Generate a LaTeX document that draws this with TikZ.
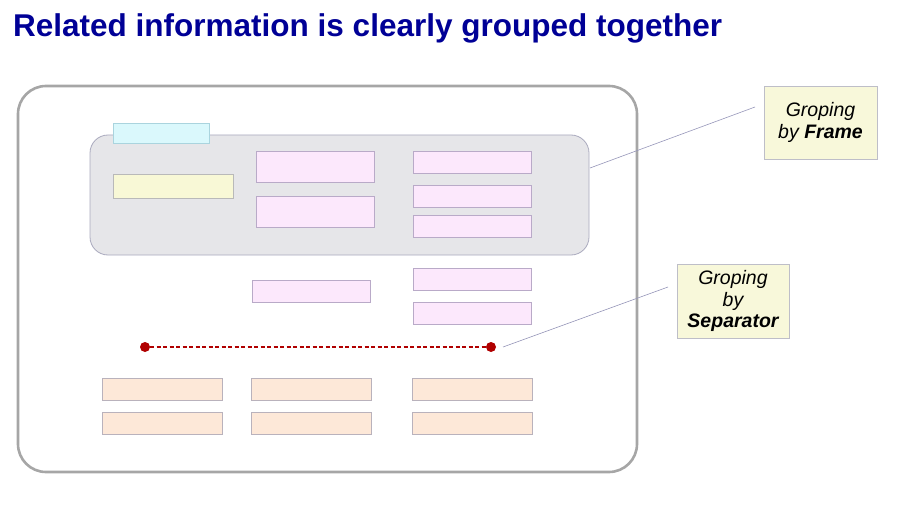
\documentclass[tikz,border=0pt]{standalone}
\usepackage{fontspec}
\setmainfont{Liberation Sans}
\usepackage{xcolor}
\usepackage{tikz}
\usetikzlibrary{shapes,arrows,positioning}
\definecolor{titlecolor}{RGB}{0, 0, 150}
\definecolor{framegray}{RGB}{166, 166, 166}
\definecolor{groupfill}{RGB}{230, 230, 233}
\definecolor{groupline}{RGB}{170, 170, 190}
\definecolor{pinkfill}{RGB}{252, 232, 252}
\definecolor{pinkline}{RGB}{185, 170, 200}
\definecolor{cyanfill}{RGB}{218, 248, 252}
\definecolor{cyanline}{RGB}{170, 212, 222}
\definecolor{yellowfill}{RGB}{248, 248, 214}
\definecolor{yellowline}{RGB}{185, 185, 185}
\definecolor{orangefill}{RGB}{253, 232, 216}
\definecolor{orangeline}{RGB}{185, 178, 188}
\definecolor{notefill}{RGB}{248, 248, 218}
\definecolor{noteline}{RGB}{190, 190, 200}
\definecolor{sepred}{RGB}{176, 0, 0}
\definecolor{leaderline}{RGB}{150, 150, 185}

\begin{document}
\begin{tikzpicture}[x=1pt, y=-1pt]
    % Define styles
    \tikzstyle{outerframe} = [rectangle, draw=framegray, line width=2.6pt, fill=white, rounded corners=28pt, inner sep=0pt]
    \tikzstyle{grpframe} = [rectangle, draw=groupline, line width=0.8pt, fill=groupfill, rounded corners=18pt, inner sep=0pt]
    \tikzstyle{field} = [rectangle, draw=pinkline, line width=0.8pt, fill=pinkfill, minimum width=118pt, minimum height=22pt, inner sep=0pt]
    \tikzstyle{tabfield} = [field, draw=cyanline, fill=cyanfill, minimum width=96pt, minimum height=20pt]
    \tikzstyle{labelfield} = [field, draw=yellowline, fill=yellowfill, minimum width=120pt, minimum height=24pt]
    \tikzstyle{lowfield} = [field, draw=orangeline, fill=orangefill, minimum width=120pt]
    \tikzstyle{note} = [rectangle, draw=noteline, line width=0.8pt, fill=notefill, align=center, inner sep=0pt, minimum width=113pt, minimum height=73pt, font=\fontsize{19.5}{21.5}\selectfont\itshape]
    \tikzstyle{sepdot} = [circle, fill=sepred, inner sep=0pt, minimum size=10pt]
    \tikzstyle{leader} = [line width=0.6pt, leaderline]

    \useasboundingbox (0,0) rectangle (897,508);

    % Title
    \node [anchor=base west, inner sep=0pt, text=titlecolor, font=\fontsize{31.5}{36}\selectfont\bfseries] (title) at (13,37) {Related information is clearly grouped together};

    % Window and grouping frame
    \node [outerframe, minimum width=619pt, minimum height=386pt] (window) at (327.5,279) {};
    \node [grpframe, minimum width=499pt, minimum height=120pt] (group) at (339.5,195) {};
    \node [tabfield] (grouptab) at (161,133) {};

    % Fields inside the frame
    \node [labelfield] (grouplabel) at (173,186) {};
    \node [field, minimum height=31pt] (tallfieldA) at (315.5,166.5) {};
    \node [field, minimum height=31pt] (tallfieldB) at (315.5,212) {};
    \node [field] (fieldA) at (472,162) {};
    \node [field] (fieldB) at (472,196) {};
    \node [field] (fieldC) at (472,226) {};

    % Fields below the frame
    \node [field] (freefield) at (311.5,291) {};
    \node [field] (freefieldA) at (472,279) {};
    \node [field] (freefieldB) at (472,313.5) {};

    % Separator
    \node [sepdot] (sepleft) at (145,347) {};
    \node [sepdot] (sepright) at (491,347) {};
    \draw [sepred, line width=1.5pt, dash pattern=on 4pt off 2.5pt] (sepleft) -- (sepright);

    % Fields below the separator
    \node [lowfield] (lowA) at (162,389) {};
    \node [lowfield] (lowB) at (311.5,389) {};
    \node [lowfield] (lowC) at (472,389) {};
    \node [lowfield] (lowD) at (162,423.5) {};
    \node [lowfield] (lowE) at (311.5,423.5) {};
    \node [lowfield] (lowF) at (472,423.5) {};

    % Notes
    \node [note] (framenote) at (820.5,122.5) {Groping\\by \textbf{Frame}};
    \node [note, minimum width=112pt, minimum height=74pt] (sepnote) at (733,301) {Groping\\by\\\textbf{Separator}};

    % Leader lines
    \coordinate (frametip) at (590,168);
    \coordinate (frameend) at (755,107);
    \coordinate (septip) at (503,347);
    \coordinate (sepend) at (668,287);
    \draw [leader] (frametip) -- (frameend);
    \draw [leader] (septip) -- (sepend);
\end{tikzpicture}
\end{document}
